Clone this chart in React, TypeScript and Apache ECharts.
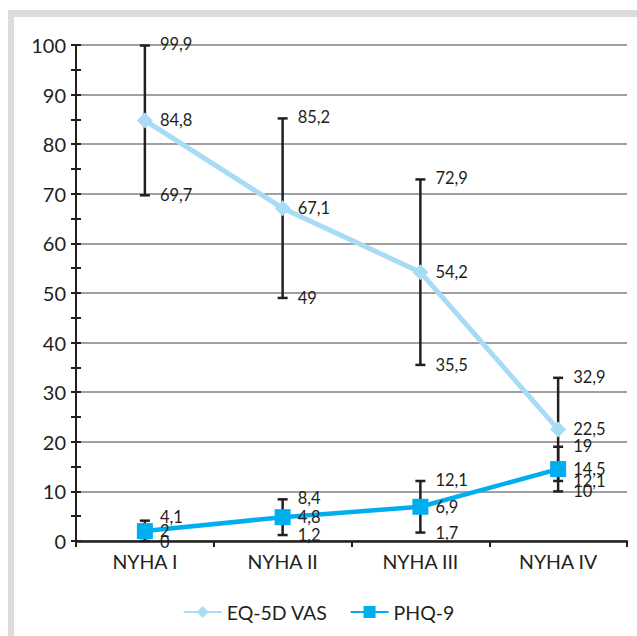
import React, { useEffect, useRef } from "react";
import * as echarts from "echarts";

const categories = ["NYHA I", "NYHA II", "NYHA III", "NYHA IV"];
const eqMean = [84.8, 67.1, 54.2, 22.5];
const eqLow = [69.7, 49, 35.5, 12.1];
const eqHigh = [99.9, 85.2, 72.9, 32.9];
const phqMean = [2, 4.8, 6.9, 14.5];
const phqLow = [0, 1.2, 1.7, 10];
const phqHigh = [4.1, 8.4, 12.1, 19];

const FONT = "Lato";
const TXT = "#231f20";
const EQ_COLOR = "#a8dcf6";
const PHQ_COLOR = "#00aeef";

const fmt = (v: number) => String(v).replace(".", ",");

function errData(mean: number[], low: number[], high: number[]) {
  return mean.map((m, i) => [i, m, low[i], high[i]]);
}

const getPts = (api: any) => {
  const i = api.value(0);
  const m = api.value(1);
  const lo = api.value(2);
  const hi = api.value(3);
  return {
    m,
    lo,
    hi,
    pHi: api.coord([i, hi]),
    pLo: api.coord([i, lo]),
    pM: api.coord([i, m]),
  };
};

const renderBars = (params: any, api: any) => {
  const { pHi, pLo } = getPts(api);
  const x = pHi[0];
  const cap = 5;
  const lineStyle = { stroke: TXT, lineWidth: 2.5 };
  return {
    type: "group",
    children: [
      { type: "line", shape: { x1: x, y1: pHi[1], x2: x, y2: pLo[1] }, style: lineStyle },
      { type: "line", shape: { x1: x - cap, y1: pHi[1], x2: x + cap, y2: pHi[1] }, style: lineStyle },
      { type: "line", shape: { x1: x - cap, y1: pLo[1], x2: x + cap, y2: pLo[1] }, style: lineStyle },
    ],
  };
};

const renderLabels = (params: any, api: any) => {
  const { m, lo, hi, pHi, pLo, pM } = getPts(api);
  const tx = pHi[0] + 15;
  const textEl = (v: number, y: number) => ({
    type: "text",
    style: {
      x: tx,
      y,
      text: fmt(v),
      fill: TXT,
      font: `16.5px ${FONT}`,
      verticalAlign: "middle",
    },
  });
  const yHi = Math.min(pHi[1] - 1, pM[1] - 14);
  const yLo = Math.max(pLo[1], pM[1] + 11);
  return {
    type: "group",
    children: [textEl(hi, yHi), textEl(m, pM[1]), textEl(lo, yLo)],
  };
};

export default function App() {
  const ref = useRef<HTMLDivElement>(null);
  useEffect(() => {
    document.body.style.margin = "0";
    const chart = echarts.init(ref.current!, null, { renderer: "svg" });
    const yCommon = {
      type: "value",
      min: 0,
      max: 100,
      interval: 10,
      position: "left",
    };
    const customCommon = {
      type: "custom",
      silent: true,
      encode: { x: 0, y: [1, 2, 3] },
    };
    chart.setOption({
      animation: false,
      backgroundColor: "transparent",
      textStyle: { fontFamily: FONT, color: TXT },
      graphic: [
        { type: "rect", z: -100, silent: true, shape: { x: 8, y: 10, width: 629, height: 626 }, style: { fill: "#dcdcdc" } },
        { type: "rect", z: -99, silent: true, shape: { x: 14, y: 17, width: 623, height: 619 }, style: { fill: "#ffffff" } },
      ],
      grid: { left: 76, right: 10, top: 45, bottom: 95, containLabel: false },
      legend: {
        top: 597,
        left: "center",
        itemWidth: 38,
        itemHeight: 15,
        itemGap: 22,
        textStyle: { fontFamily: FONT, fontSize: 19.5, color: TXT },
        data: ["EQ-5D VAS", "PHQ-9"],
      },
      xAxis: {
        type: "category",
        data: categories,
        boundaryGap: true,
        axisLine: { lineStyle: { color: TXT, width: 2.5 } },
        axisTick: { show: true, length: 6, lineStyle: { color: TXT, width: 2 } },
        axisLabel: { fontFamily: FONT, fontSize: 19.5, color: TXT, margin: 10 },
        splitLine: { show: false },
      },
      yAxis: [
        {
          ...yCommon,
          axisLine: { show: true, lineStyle: { color: TXT, width: 2 } },
          axisTick: { show: true, length: 5, lineStyle: { color: TXT, width: 2 } },
          minorTick: { show: true, splitNumber: 2, length: 5, lineStyle: { color: TXT, width: 2 } },
          axisLabel: { fontFamily: FONT, fontSize: 20, color: TXT, margin: 10 },
          splitLine: { show: true, lineStyle: { color: "#a0a0a2", width: 2 } },
        },
        {
          ...yCommon,
          offset: 0,
          axisLine: { show: false },
          axisTick: { show: true, inside: true, length: 5, lineStyle: { color: TXT, width: 2 } },
          minorTick: { show: true, splitNumber: 2, length: 5, lineStyle: { color: TXT, width: 2 } },
          axisLabel: { show: false },
          splitLine: { show: false },
        },
      ],
      series: [
        { ...customCommon, name: "EQ-5D VAS err", renderItem: renderBars, data: errData(eqMean, eqLow, eqHigh), z: 1 },
        { ...customCommon, name: "PHQ-9 err", renderItem: renderBars, data: errData(phqMean, phqLow, phqHigh), z: 1 },
        {
          name: "EQ-5D VAS",
          type: "line",
          data: eqMean,
          z: 3,
          symbol: "diamond",
          symbolSize: 16,
          lineStyle: { color: EQ_COLOR, width: 5 },
          itemStyle: { color: EQ_COLOR },
        },
        {
          name: "PHQ-9",
          type: "line",
          data: phqMean,
          z: 3,
          symbol: "rect",
          symbolSize: 16,
          lineStyle: { color: PHQ_COLOR, width: 4.5 },
          itemStyle: { color: PHQ_COLOR },
        },
        { ...customCommon, name: "EQ-5D VAS lbl", renderItem: renderLabels, data: errData(eqMean, eqLow, eqHigh), z: 6 },
        { ...customCommon, name: "PHQ-9 lbl", renderItem: renderLabels, data: errData(phqMean, phqLow, phqHigh), z: 6 },
      ],
    });
    return () => chart.dispose();
  }, []);
  return <div ref={ref} style={{ width: 637, height: 636 }} />;
}
